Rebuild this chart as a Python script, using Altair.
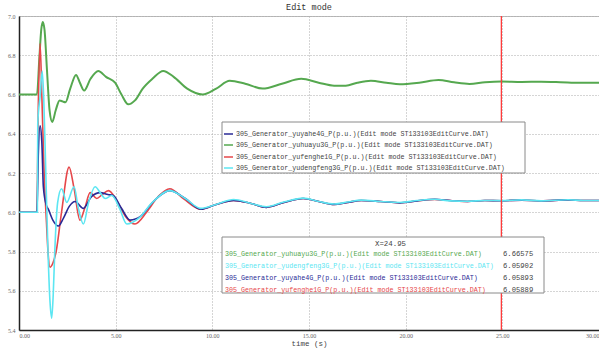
import altair as alt
import pandas as pd

# ---------------- data ----------------
SUFFIX = "(Edit mode ST133103EditCurve.DAT)"
NAMES = {
    "blue": "305_Generator_yuyahe4G_P(p.u.)",
    "green": "305_Generator_yuhuayu3G_P(p.u.)",
    "red": "305_Generator_yufenghe1G_P(p.u.)",
    "cyan": "305_Generator_yudengfeng3G_P(p.u.)",
}
COLORS = {"blue": "#2a2a96", "green": "#55a84f", "red": "#e6474a", "cyan": "#5ce6f2"}

green_t = [0, 0.93, 1.05, 1.15, 1.23, 1.32, 1.45, 1.58, 1.72, 1.9, 2.1, 2.25, 2.4, 2.65, 2.95,
           3.15, 3.37, 3.7, 4.1, 4.5, 4.97, 5.3, 5.65, 6.0, 6.4, 6.9, 7.46, 8.0, 8.7, 9.5, 10.2,
           10.9, 11.7, 12.6, 13.6, 14.6, 15.5, 16.3, 16.9, 17.5, 18.2, 19.0, 19.7, 20.7, 21.7,
           22.5, 23.3, 24.1, 24.95, 26.0, 27.0, 28.0, 29.0, 30.0]
green_v = [6.6, 6.6, 6.78, 6.93, 6.97, 6.93, 6.72, 6.52, 6.46, 6.52, 6.57, 6.565, 6.56, 6.63, 6.70,
           6.66, 6.62, 6.68, 6.72, 6.69, 6.66, 6.60, 6.55, 6.57, 6.63, 6.68, 6.72, 6.69, 6.63, 6.60, 6.63,
           6.67, 6.655, 6.63, 6.655, 6.68, 6.66, 6.645, 6.645, 6.66, 6.67, 6.66, 6.652, 6.66, 6.674,
           6.662, 6.654, 6.662, 6.6658, 6.664, 6.665, 6.663, 6.66, 6.66]

red_t = [0, 0.92, 1.0, 1.09, 1.18, 1.3, 1.42, 1.5, 1.6, 1.75, 1.92, 2.2, 2.59, 2.85, 3.15, 3.4,
         3.68, 4.02, 4.3, 4.63, 5.05, 5.5, 6.0, 6.6, 7.2, 7.8, 8.5, 9.4, 10.2, 11.1, 12.0, 12.8,
         13.7, 14.7, 15.5, 16.3, 17.0, 17.7, 18.7, 19.7, 20.6, 21.5, 22.3, 23.2, 24.1, 24.95,
         26.0, 27.0, 28.4, 29.2, 30.0]
red_v = [6.0, 6.0, 6.55, 6.86, 6.6, 6.2, 5.95, 5.8, 5.72, 5.74, 5.8, 6.0, 6.23, 6.12, 5.96, 6.02,
         6.10, 6.07, 6.09, 6.11, 6.06, 5.98, 5.94, 6.0, 6.08, 6.12, 6.07, 6.015, 6.04, 6.06, 6.045, 6.025,
         6.05, 6.07, 6.055, 6.04, 6.05, 6.06, 6.055, 6.048, 6.058, 6.065, 6.06, 6.055, 6.06, 6.0589,
         6.062, 6.058, 6.063, 6.06, 6.06]

blue_t = [0, 0.93, 1.0, 1.09, 1.18, 1.26, 1.4, 1.52, 1.75, 2.04, 2.3, 2.6, 2.9, 3.33, 3.75, 4.2,
          4.6, 4.87, 5.3, 5.75, 6.3, 7.0, 7.8, 8.6, 9.4, 10.2, 11.1, 12.0, 12.8, 13.7, 14.7, 15.5,
          16.3, 17.0, 17.7, 18.7, 19.7, 20.6, 21.5, 22.3, 23.2, 24.1, 24.95, 26.0, 27.0, 28.4,
          29.2, 30.0]
blue_v = [6.0, 6.0, 6.3, 6.44, 6.36, 6.13, 6.04, 6.015, 5.96, 5.93, 5.97, 6.03, 6.055, 6.02, 6.08, 6.10,
          6.09, 6.085, 6.02, 5.96, 5.98, 6.06, 6.11, 6.07, 6.015, 6.04, 6.06, 6.045, 6.025, 6.05, 6.07, 6.055,
          6.04, 6.05, 6.06, 6.055, 6.048, 6.058, 6.066, 6.06, 6.055, 6.06, 6.0589, 6.062, 6.058, 6.063,
          6.06, 6.06]

cyan_t = [0, 0.95, 0.97, 1.1, 1.2, 1.28, 1.4, 1.5, 1.6, 1.69, 1.77, 1.85, 2.0, 2.2, 2.47, 2.85,
          3.05, 3.33, 3.6, 3.94, 4.2, 4.46, 4.8, 5.2, 5.58, 6.2, 6.9, 7.8, 8.6, 9.4, 10.2, 11.1,
          12.0, 12.8, 13.7, 14.7, 15.5, 16.3, 17.0, 17.7, 18.7, 19.7, 20.6, 21.5, 22.3, 23.2,
          24.1, 24.95, 26.0, 27.0, 28.4, 29.2, 30.0]
cyan_v = [6.0, 6.0, 6.45, 6.6, 6.72, 6.58, 6.15, 5.8, 5.55, 5.46, 5.58, 5.8, 6.05, 6.12, 6.05, 6.13,
          6.03, 5.94, 6.05, 6.13, 6.10, 6.07, 6.085, 6.02, 5.94, 5.97, 6.05, 6.11, 6.07, 6.02, 6.04, 6.065,
          6.045, 6.028, 6.052, 6.072, 6.055, 6.042, 6.052, 6.062, 6.055, 6.05, 6.06, 6.066, 6.058, 6.056,
          6.06, 6.059, 6.063, 6.058, 6.064, 6.06, 6.06]

SERIES = {
    "green": (green_t, green_v),
    "red": (red_t, red_v),
    "blue": (blue_t, blue_v),
    "cyan": (cyan_t, cyan_v),
}

CURSOR_X = [24.95]
LEGEND1_ORDER = ["blue", "green", "red", "cyan"]
LEGEND2_ORDER = ["green", "cyan", "blue", "red"]
LEGEND2_VALUES = {"green": "6.66575", "cyan": "6.05902", "blue": "6.05893", "red": "6.05889"}

X_TICKS = [0, 5, 10, 15, 20, 25, 30]
Y_TICKS = [5.4, 5.6, 5.8, 6.0, 6.2, 6.4, 6.6, 6.8, 7.0]

# ---------------- layout ----------------
PAD_L, PAD_T, PAD_R, PAD_B = 19, 16, 0, 19
W, H = 599 - PAD_L - PAD_R, 349 - PAD_T - PAD_B
MONO = "Liberation Mono"

xs = alt.Scale(domain=[0, 30], nice=False, zero=False)
ys = alt.Scale(domain=[5.4, 7.0], nice=False, zero=False)
x_axis = alt.Axis(values=X_TICKS, format=".2f", title="time (s)", grid=True, ticks=False,
                  labelFontSize=6, labelColor="#666", labelFont="Liberation Serif", labelPadding=2,
                  titleFontSize=7.5, titleFont=MONO, titleFontWeight="normal", titleColor="#444",
                  titlePadding=1, domainColor="#222", domainWidth=1.5,
                  gridColor="#aaa", gridDash=[1, 2], gridWidth=1)
y_axis = alt.Axis(values=Y_TICKS, format=".1f", title=None, grid=True, ticks=False,
                  labelFontSize=6, labelColor="#666", labelFont="Liberation Serif", labelPadding=4,
                  domainColor="#222", domainWidth=1.5,
                  gridColor="#aaa", gridDash=[1, 2], gridWidth=1)

layers = []
for key, (t, v) in SERIES.items():
    df = pd.DataFrame({"t": t, "v": v})
    ch = alt.Chart(df).mark_line(interpolate="monotone", color=COLORS[key],
                                 strokeWidth=2 if key == "green" else 1.6).encode(
        x=alt.X("t:Q", scale=xs, axis=x_axis),
        y=alt.Y("v:Q", scale=ys, axis=y_axis),
    )
    layers.append(ch)

cursor = alt.Chart(pd.DataFrame({"t": CURSOR_X})).mark_rule(color="#ff3b3b", strokeWidth=1.3).encode(
    x=alt.X("t:Q", scale=xs, axis=x_axis)
)
layers.append(cursor)

one = alt.Data(values=[{"a": 1}])


def px(x):
    return alt.value(x - PAD_L)


def py(y):
    return alt.value(y - PAD_T)


def box(x0, y0, x1, y1):
    return alt.Chart(one).mark_rect(fill="white", stroke="#8a8a8a", strokeWidth=1).encode(
        x=px(x0), x2=px(x1), y=py(y0), y2=py(y1))


def label(text, x, y, color, size=6.7, align="left"):
    return alt.Chart(one).mark_text(text=text, font=MONO, fontSize=size, color=color,
                                    align=align, baseline="middle").encode(x=px(x), y=py(y))


# legend 1
layers.append(box(222, 122, 525, 173))
rows1 = [134, 145, 157, 168]
for key, yy in zip(LEGEND1_ORDER, rows1):
    layers.append(alt.Chart(one).mark_rule(color=COLORS[key], strokeWidth=1.5).encode(
        x=px(224), x2=px(233), y=py(yy)))
    layers.append(label(NAMES[key] + SUFFIX, 236, yy, "#444"))

# legend 2
layers.append(box(222, 237, 544, 293))
layers.append(label("X=24.95", 375, 244, "#444", size=7.4))
rows2 = [254, 266, 278, 290]
for key, yy in zip(LEGEND2_ORDER, rows2):
    layers.append(label(NAMES[key] + SUFFIX, 225, yy, COLORS[key]))
    layers.append(label(LEGEND2_VALUES[key], 503, yy, "#444", size=7.2))

chart = alt.layer(*layers).properties(
    width=W, height=H,
    title=alt.TitleParams("Edit mode", font=MONO, fontSize=8.5, fontWeight="normal",
                          color="#333", offset=2),
    autosize=alt.AutoSizeParams(type="none"),
    padding={"left": PAD_L, "top": PAD_T, "right": PAD_R, "bottom": PAD_B},
    background="white",
).configure_view(stroke="#bbb", strokeWidth=1)

chart.save("out.html", embed_options={"renderer": "svg", "actions": False})
